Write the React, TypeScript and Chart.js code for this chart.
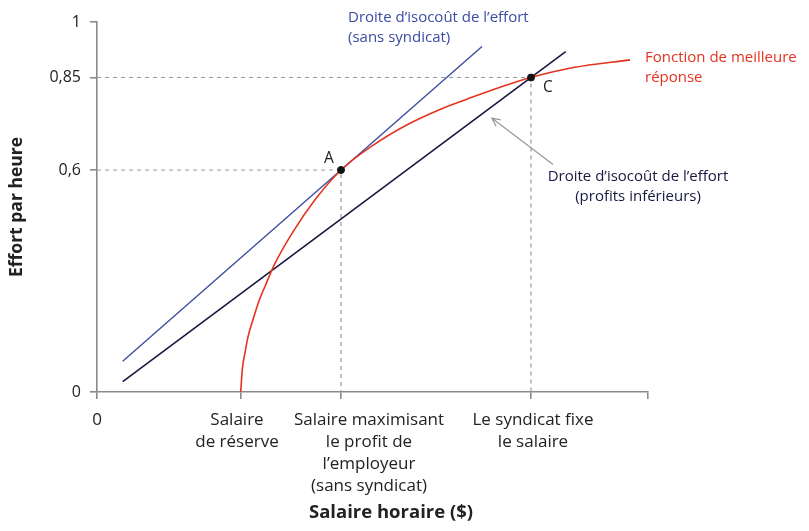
import React, { useEffect, useRef } from "react";
import { Chart, registerables } from "chart.js";

Chart.register(...registerables);

const FONT = "'Open Sans', sans-serif";
const BLUE = "#3b4ca3";
const RED = "#e6321f";
const NAVY = "#17183f";
const AXIS = "#8a8a8a";
const TEXT = "#222";

// best response function (wage, effort)
const bestResponseWage = [14.37, 14.53, 14.8, 15.13, 15.63, 16.17, 16.87, 17.75, 19.47, 21.8, 24.4, 27.63, 30.97, 34.3, 37.63, 40.97, 43.4, 47.63, 53.3];
const bestResponseEffort = [0, 0.0605, 0.1065, 0.1522, 0.1982, 0.2441, 0.2898, 0.3448, 0.4274, 0.5193, 0.6, 0.6674, 0.7218, 0.7638, 0.7977, 0.8296, 0.85, 0.8768, 0.8976];

// isocost lines: end points
const isoNoUnionWage = [2.57, 38.5];
const isoNoUnionEffort = [0.083, 0.934];
const isoLowWage = [2.57, 46.87];
const isoLowEffort = [0.028, 0.92];

// equilibrium points
const pointNames = ["A", "C"];
const pointWage = [24.4, 43.4];
const pointEffort = [0.6, 0.85];

const xMax = 55.1;
// tick marks on the wage axis
const xTicks = [0, 14.37, 24.4, 43.4, 55.1];
// wage axis captions and where they sit
const xLabelAt = [0, 14.0, 27.2, 43.6];
const xLabels = [
  ["0"],
  ["Salaire", "de réserve"],
  ["Salaire maximisant", "le profit de", "l’employeur", "(sans syndicat)"],
  ["Le syndicat fixe", "le salaire"],
];
const yTicks = [0, 0.6, 0.85, 1];
const yTickLabels = ["0", "0,6", "0,85", "1"];

// arrow pointing at the lower isocost line
const arrowFrom = [45.6, 0.615];
const arrowTo = [39.5, 0.74];

const toPoints = (xs: number[], ys: number[]) => xs.map((x, i) => ({ x, y: ys[i] }));

const annotate = {
  id: "annotate",
  afterDraw(chart: any) {
    const { ctx } = chart;
    const x = chart.scales.x;
    const y = chart.scales.y;
    ctx.save();
    ctx.textBaseline = "middle";

    const text = (lines: string[], px: number, py: number, color: string, align: CanvasTextAlign, lh = 19.5, font = `15px ${FONT}`) => {
      ctx.font = font;
      ctx.fillStyle = color;
      ctx.textAlign = align;
      lines.forEach((l, i) => ctx.fillText(l, px, py + i * lh));
    };

    text(["Droite d’isocoût de l’effort", "(sans syndicat)"], 348, 18, BLUE, "left");
    text(["Fonction de meilleure", "réponse"], 645, 58, RED, "left");
    text(["Droite d’isocoût de l’effort", "(profits inférieurs)"], 638, 177, NAVY, "center", 20);

    // point labels
    const ax = x.getPixelForValue(pointWage[0]);
    const ay = y.getPixelForValue(pointEffort[0]);
    text([pointNames[0]], ax - 12, ay - 11, TEXT, "center", 20, `15.5px ${FONT}`);
    const cx = x.getPixelForValue(pointWage[1]);
    const cy = y.getPixelForValue(pointEffort[1]);
    text([pointNames[1]], cx + 17, cy + 10, TEXT, "center", 20, `15.5px ${FONT}`);

    // arrow
    const x1 = x.getPixelForValue(arrowFrom[0]);
    const y1 = y.getPixelForValue(arrowFrom[1]);
    const x2 = x.getPixelForValue(arrowTo[0]);
    const y2 = y.getPixelForValue(arrowTo[1]);
    const ang = Math.atan2(y2 - y1, x2 - x1);
    ctx.strokeStyle = "#9a9a9a";
    ctx.lineWidth = 1.3;
    ctx.beginPath();
    ctx.moveTo(x1, y1);
    ctx.lineTo(x2, y2);
    ctx.moveTo(x2 - 9 * Math.cos(ang - 0.45), y2 - 9 * Math.sin(ang - 0.45));
    ctx.lineTo(x2, y2);
    ctx.lineTo(x2 - 9 * Math.cos(ang + 0.45), y2 - 9 * Math.sin(ang + 0.45));
    ctx.stroke();

    // x axis title
    text(["Salaire horaire ($)"], 391, 513, TEXT, "center", 20, `bold 18.5px ${FONT}`);
    ctx.restore();
  },
};

function EffortChart() {
  const ref = useRef<HTMLCanvasElement | null>(null);
  useEffect(() => {
    if (!ref.current) return;
    const guides = pointWage.map((w, i) => ({
      data: [
        { x: 0, y: pointEffort[i] },
        { x: w, y: pointEffort[i] },
        { x: w, y: 0 },
      ],
      borderColor: "#9a9a9a",
      borderWidth: 1.2,
      borderDash: [4, 4],
      pointRadius: 0,
      showLine: true,
      order: 3,
    }));
    const chart = new Chart(ref.current, {
      type: "scatter",
      data: {
        datasets: [
          {
            data: toPoints(pointWage, pointEffort),
            backgroundColor: "#111",
            borderColor: "#111",
            pointRadius: 3.5,
            showLine: false,
            order: 0,
          },
          {
            data: toPoints(bestResponseWage, bestResponseEffort),
            borderColor: RED,
            borderWidth: 1.6,
            pointRadius: 0,
            showLine: true,
            cubicInterpolationMode: "monotone",
            order: 1,
          },
          {
            data: toPoints(isoNoUnionWage, isoNoUnionEffort),
            borderColor: BLUE,
            borderWidth: 1.4,
            pointRadius: 0,
            showLine: true,
            order: 2,
          },
          {
            data: toPoints(isoLowWage, isoLowEffort),
            borderColor: NAVY,
            borderWidth: 1.6,
            pointRadius: 0,
            showLine: true,
            order: 2,
          },
          ...guides,
        ] as any,
      },
      options: {
        animation: false,
        responsive: false,
        events: [],
        layout: { padding: { top: 22, right: 161, left: 0, bottom: 0 } },
        plugins: { legend: { display: false }, tooltip: { enabled: false } },
        scales: {
          x: {
            type: "linear",
            min: 0,
            max: xMax,
            weight: 0,
            afterFit: (s: any) => { s.height = 8; },
            afterBuildTicks: (s: any) => { s.ticks = xTicks.map((v) => ({ value: v })); },
            border: { color: AXIS, width: 1.6 },
            grid: { drawOnChartArea: false, drawTicks: true, tickLength: 7, color: AXIS, lineWidth: 1.6 },
            ticks: { display: false, autoSkip: false },
          },
          x2: {
            type: "linear",
            position: "bottom",
            min: 0,
            max: xMax,
            weight: 1,
            afterFit: (s: any) => { s.height = 131; },
            afterBuildTicks: (s: any) => { s.ticks = xLabelAt.map((v) => ({ value: v })); },
            border: { display: false },
            grid: { display: false, drawTicks: false },
            ticks: {
              autoSkip: false,
              maxRotation: 0,
              padding: 9,
              color: TEXT,
              font: { family: FONT, size: 17, lineHeight: 1.3 },
              callback: (_v: any, i: number) => xLabels[i],
            },
          },
          y: {
            type: "linear",
            min: 0,
            max: 1,
            afterFit: (s: any) => { s.width = 97; },
            afterBuildTicks: (s: any) => { s.ticks = yTicks.map((v) => ({ value: v })); },
            border: { color: AXIS, width: 1.6 },
            grid: { drawOnChartArea: false, drawTicks: true, tickLength: 7, color: AXIS, lineWidth: 1.6 },
            ticks: {
              padding: 9,
              color: TEXT,
              font: { family: FONT, size: 16 },
              callback: (_v: any, i: number) => yTickLabels[i],
            },
            title: {
              display: true,
              text: "Effort par heure",
              color: TEXT,
              font: { family: FONT, size: 17.5, weight: "bold" },
              padding: { top: 7, bottom: 0 },
            },
          },
        },
      },
      plugins: [annotate],
    });
    return () => chart.destroy();
  }, []);
  return <canvas ref={ref} width={809} height={531} />;
}

export default function App() {
  return (
    <div style={{ position: "absolute", left: 0, top: 0, width: 809, height: 531, background: "#fff" }}>
      <EffortChart />
    </div>
  );
}
